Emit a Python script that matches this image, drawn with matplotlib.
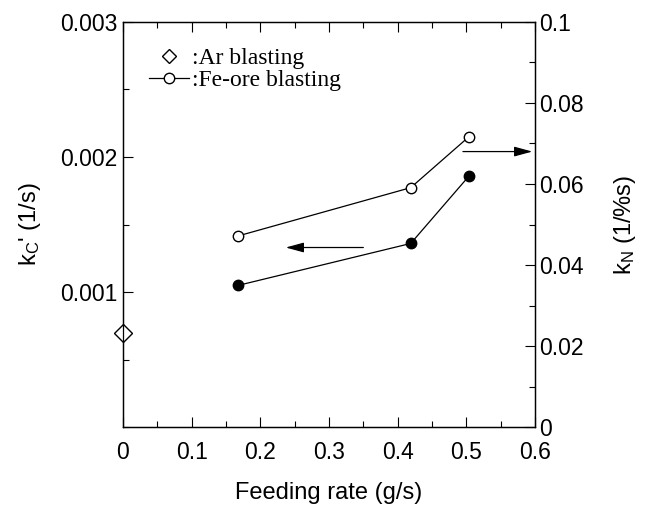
import matplotlib
matplotlib.use("Agg")
import matplotlib.pyplot as plt
from matplotlib.lines import Line2D
from matplotlib.ticker import MultipleLocator, FixedLocator, FixedFormatter

plt.rcParams["font.family"] = ["Liberation Sans", "DejaVu Sans"]
plt.rcParams["mathtext.default"] = "regular"

# Ar blasting (left axis, kC')
ar_rate = [0.0]
ar_kc = [0.0007]

# Fe-ore blasting
fe_rate = [0.168, 0.419, 0.504]
fe_kc = [0.00105, 0.00136, 0.00186]      # filled, left axis
fe_kn = [0.0472, 0.0591, 0.0717]         # open, right axis

x_ticks = [0, 0.1, 0.2, 0.3, 0.4, 0.5, 0.6]
x_labels = ["0", "0.1", "0.2", "0.3", "0.4", "0.5", "0.6"]
kc_ticks = [0.001, 0.002, 0.003]
kc_labels = ["0.001", "0.002", "0.003"]
kn_ticks = [0, 0.02, 0.04, 0.06, 0.08, 0.1]
kn_labels = ["0", "0.02", "0.04", "0.06", "0.08", "0.1"]

# arrows pointing at the axis each series belongs to
kc_arrow = ((0.35, 0.00133), (0.237, 0.00133))
kn_arrow = ((0.495, 0.068), (0.596, 0.068))

fig = plt.figure(figsize=(6.47, 5.08), dpi=100)
ax = fig.add_axes([0.190, 0.159, 0.637, 0.798])
ax2 = ax.twinx()

lw = 0.9
ax.plot(ar_rate, ar_kc, linestyle="none", marker="D", markersize=9,
        markerfacecolor="white", markeredgecolor="black", markeredgewidth=1.0,
        clip_on=False, zorder=5)
ax.plot(fe_rate, fe_kc, color="black", linewidth=lw, marker="o", markersize=7.5,
        markerfacecolor="black", markeredgecolor="black")
ax2.plot(fe_rate, fe_kn, color="black", linewidth=lw, marker="o", markersize=7.5,
         markerfacecolor="white", markeredgecolor="black", markeredgewidth=1.0)

ax.set_xlim(0, 0.6)
ax.set_ylim(0, 0.003)
ax2.set_ylim(0, 0.1)

ax.xaxis.set_major_locator(FixedLocator(x_ticks))
ax.xaxis.set_major_formatter(FixedFormatter(x_labels))
ax.xaxis.set_minor_locator(MultipleLocator(0.05))
ax.yaxis.set_major_locator(FixedLocator(kc_ticks))
ax.yaxis.set_major_formatter(FixedFormatter(kc_labels))
ax.yaxis.set_minor_locator(MultipleLocator(0.0005))
ax2.yaxis.set_major_locator(FixedLocator(kn_ticks))
ax2.yaxis.set_major_formatter(FixedFormatter(kn_labels))
ax2.yaxis.set_minor_locator(MultipleLocator(0.01))

ax.tick_params(axis="both", which="both", direction="in", labelsize=16.5,
               width=0.8, top=True, right=False)
ax.tick_params(which="major", length=7)
ax.tick_params(which="minor", length=4)
ax.tick_params(axis="x", pad=10)
ax.tick_params(axis="y", pad=4)
ax2.tick_params(axis="y", which="both", direction="in", labelsize=16.5, width=0.8, pad=3)
ax2.tick_params(which="major", length=7)
ax2.tick_params(which="minor", length=4)

for a in (ax, ax2):
    for sp in a.spines.values():
        sp.set_linewidth(0.9)

ax.set_xlabel("Feeding rate (g/s)", fontsize=17, labelpad=13)
ax.set_ylabel("k$_C$' (1/s)", fontsize=17, labelpad=12)
ax2.set_ylabel("k$_N$ (1/%s)", fontsize=17, labelpad=20, rotation=90)

arrow_props = dict(arrowstyle="-|>,head_length=1.1,head_width=0.3",
                   color="black", linewidth=0.9, shrinkA=0, shrinkB=0)
ax.annotate("", xy=kc_arrow[1], xytext=kc_arrow[0], arrowprops=arrow_props)
ax2.annotate("", xy=kn_arrow[1], xytext=kn_arrow[0], arrowprops=arrow_props,
             annotation_clip=False)

handles = [
    Line2D([], [], linestyle="none", marker="D", markersize=7.5,
           markerfacecolor="white", markeredgecolor="black"),
    Line2D([], [], color="black", linewidth=lw, marker="o", markersize=7.5,
           markerfacecolor="white", markeredgecolor="black"),
]
ax.legend(handles, [":Ar blasting", ":Fe-ore blasting"], loc="upper left",
          bbox_to_anchor=(0.035, 0.965), frameon=False, borderpad=0,
          handlelength=1.7, handletextpad=0.1, labelspacing=0.0,
          prop={"family": "Liberation Serif", "size": 17})

fig.savefig("out.png", dpi=100)
